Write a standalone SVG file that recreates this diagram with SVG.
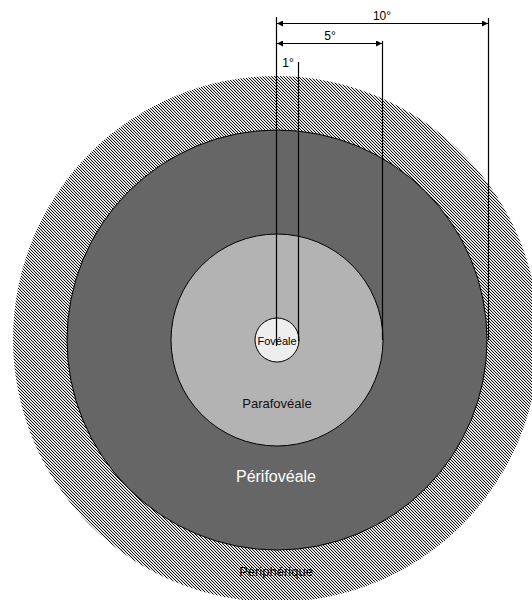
<svg xmlns="http://www.w3.org/2000/svg" width="532" height="603" viewBox="0 0 532 603">
  <style>
    .lbl { font-family: "Liberation Sans", Arial, sans-serif; text-anchor: middle; }
    .ring { stroke: #000; stroke-width: 1; }
    .dim { stroke: #000; stroke-width: 1.2; fill: none; }
  </style>
  <defs>
    <pattern id="hatch" x="0" y="0" width="3" height="3" patternUnits="userSpaceOnUse">
      <rect width="3" height="3" fill="#fff"/>
      <g shape-rendering="crispEdges">
        <path d="M0 0h1v1H0z M1 1h1v1H1z M2 2h1v1H2z" fill="#111"/>
        <path d="M1 0h1v1H1z M2 1h1v1H2z M0 2h1v1H0z" fill="#d0d0d0"/>
      </g>
    </pattern>
    <marker id="arr" viewBox="0 0 10 10" refX="10" refY="5" markerWidth="9" markerHeight="6" markerUnits="userSpaceOnUse" orient="auto-start-reverse">
      <path d="M0 0L10 5L0 10z" fill="#000"/>
    </marker>
  </defs>
  <rect width="532" height="603" fill="#fff"/>

  <g id="peripherique">
    <circle cx="276" cy="339" r="263" fill="url(#hatch)"/>
    <rect x="0" y="600" width="532" height="3" fill="#fff"/>
    <text class="lbl" x="276" y="576" font-size="13" fill="#000">Périphérique</text>
  </g>

  <g id="perifoveale">
    <circle class="ring" cx="277" cy="340" r="210" fill="#666"/>
    <text class="lbl" x="276" y="482" font-size="16" fill="#fff">Périfovéale</text>
  </g>

  <g id="parafoveale">
    <circle class="ring" cx="277" cy="340" r="106" fill="#b3b3b3"/>
    <text class="lbl" x="277" y="408" font-size="13" fill="#111">Parafovéale</text>
  </g>

  <g id="connectors">
    <line class="dim" x1="276.5" y1="17" x2="276.5" y2="346"/>
    <line class="dim" x1="298.5" y1="62" x2="298.5" y2="341"/>
    <line class="dim" x1="382.5" y1="41" x2="382.5" y2="340"/>
    <line class="dim" x1="488.5" y1="18" x2="488.5" y2="340"/>
    <line class="dim" x1="277" y1="23.5" x2="488" y2="23.5" marker-start="url(#arr)" marker-end="url(#arr)"/>
    <line class="dim" x1="277" y1="43.5" x2="382" y2="43.5" marker-start="url(#arr)" marker-end="url(#arr)"/>
    <text class="lbl" x="382" y="20" font-size="12" fill="#000">10°</text>
    <text class="lbl" x="330" y="40" font-size="12" fill="#000">5°</text>
    <text class="lbl" x="288" y="67" font-size="12" fill="#000">1°</text>
  </g>

  <g id="foveale">
    <circle class="ring" cx="277" cy="340" r="22" fill="#eee"/>
    <line class="dim" x1="276.5" y1="318" x2="276.5" y2="346"/>
    <line class="dim" x1="298.5" y1="330" x2="298.5" y2="341"/>
    <text class="lbl" x="277" y="345" font-size="11" fill="#000">Fovéale</text>
  </g>
</svg>
